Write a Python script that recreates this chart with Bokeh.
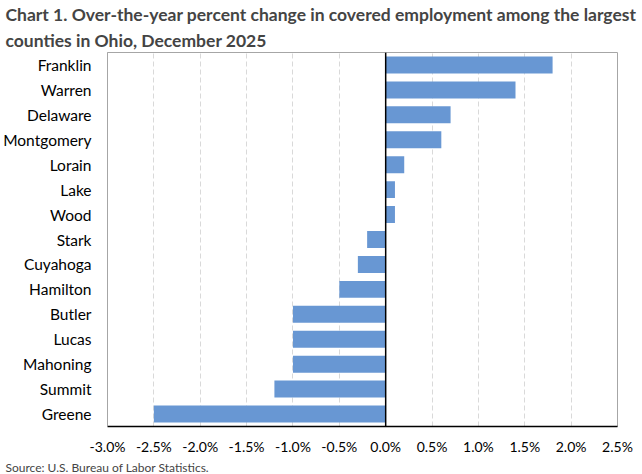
from bokeh.plotting import figure
from bokeh.models import Range1d, FactorRange, Title, Span, FixedTicker, CustomJSTickFormatter
from bokeh.embed import file_html
from bokeh.resources import INLINE

counties = ["Franklin", "Warren", "Delaware", "Montgomery", "Lorain", "Lake", "Wood",
            "Stark", "Cuyahoga", "Hamilton", "Butler", "Lucas", "Mahoning", "Summit", "Greene"]
changes = [1.8, 1.4, 0.7, 0.6, 0.2, 0.1, 0.1, -0.2, -0.3, -0.5, -1.0, -1.0, -1.0, -1.2, -2.5]
x_ticks = [-3.0, -2.5, -2.0, -1.5, -1.0, -0.5, 0.0, 0.5, 1.0, 1.5, 2.0, 2.5]

FONT = "Lato"

p = figure(width=642, height=474, output_backend="svg", toolbar_location=None,
           y_range=FactorRange(*list(reversed(counties))), x_range=Range1d(-3.0, 2.5),
           title=None, min_border_left=107, min_border_right=25, min_border_top=51,
           min_border_bottom=47)

p.hbar(y=counties, right=changes, left=0, height=0.68, color="#6897d3", line_color=None)

p.add_layout(Span(location=0, dimension="height", line_color="black", line_width=1.5))

p.xaxis.ticker = FixedTicker(ticks=x_ticks)
p.xaxis.formatter = CustomJSTickFormatter(code="return tick.toFixed(1) + '%';")
p.xaxis.major_tick_line_color = None
p.xaxis.major_tick_out = 0
p.xaxis.major_tick_in = 0
p.xaxis.minor_tick_line_color = None
p.xaxis.minor_tick_out = 0
p.xaxis.axis_line_color = "black"
p.xaxis.axis_line_width = 1.5
p.xaxis.major_label_text_font = FONT
p.xaxis.major_label_text_font_size = "14px"
p.xaxis.major_label_text_color = "black"
p.xaxis.major_label_standoff = 11

p.yaxis.major_tick_line_color = None
p.yaxis.major_tick_out = 0
p.yaxis.major_tick_in = 0
p.yaxis.minor_tick_line_color = None
p.yaxis.minor_tick_out = 0
p.yaxis.axis_line_color = "#a6a6a6"
p.yaxis.major_label_text_font = FONT
p.yaxis.major_label_text_font_size = "15.5px"
p.yaxis.major_label_text_color = "black"
p.yaxis.major_label_standoff = 16

p.ygrid.grid_line_color = None
p.xgrid.grid_line_color = "#d9d9d9"
p.xgrid.grid_line_dash = "5 3"
p.outline_line_color = "#a6a6a6"

p.add_layout(Title(text="counties in Ohio, December 2025", text_font=FONT, text_font_size="17.5px",
                   text_font_style="bold", align="left", offset=-102, standoff=4), "above")
p.add_layout(Title(text="Chart 1. Over-the-year percent change in covered employment among the largest",
                   text_font=FONT, text_font_size="17.5px", text_font_style="bold", align="left",
                   offset=-102, standoff=2), "above")
p.add_layout(Title(text="Source: U.S. Bureau of Labor Statistics.", text_font=FONT,
                   text_font_size="12px", text_font_style="normal", align="left", offset=-102,
                   standoff=0), "below")

open("out.html", "w").write(file_html(p, INLINE))
